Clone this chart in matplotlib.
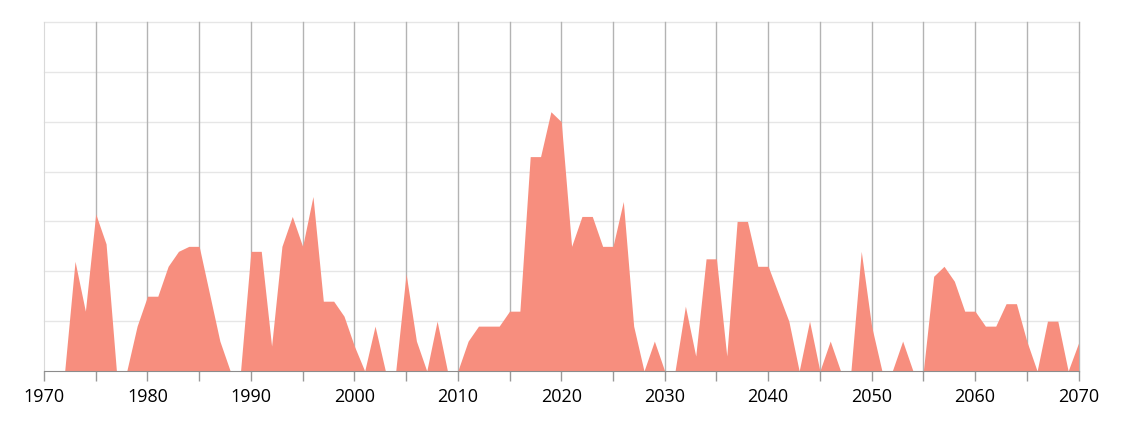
import matplotlib
matplotlib.use("Agg")
import numpy as np
import matplotlib.pyplot as plt

years = list(range(1970, 2071))

values = [
    0, 0, 0, 22, 12, 31.5, 25.5, 0, 0, 9,          # 1970-1979
    15, 15, 21, 24, 25, 25, 15.5, 6, 0, 0,          # 1980-1989
    24, 24, 5, 25, 31, 25, 35, 14, 14, 11,          # 1990-1999
    5, 0, 9, 0, 0, 19.5, 6, 0, 10, 0,               # 2000-2009
    0, 6, 9, 9, 9, 12, 12, 43, 43, 52,              # 2010-2019
    50, 25, 31, 31, 25, 25, 34, 9, 0, 6,            # 2020-2029
    0, 0, 13, 3, 22.5, 22.5, 3, 30, 30, 21,         # 2030-2039
    21, 15.5, 10, 0, 10, 0, 6, 0, 0, 24,            # 2040-2049
    9, 0, 0, 6, 0, 0, 19, 21, 18, 12,               # 2050-2059
    12, 9, 9, 13.5, 13.5, 6, 0, 10, 10, 0,          # 2060-2069
    5.6,                                            # 2070
]

plt.rcParams['font.family'] = ['Open Sans', 'DejaVu Sans']

fig = plt.figure(figsize=(11.24, 4.23), dpi=100)
ax = fig.add_axes([44 / 1124, 52 / 423, 1034.5 / 1124, 349 / 423])

ax.fill_between(years, values, 0, color="#F78E7E", linewidth=0, zorder=2)

ax.set_xlim(1970, 2070)
ax.set_ylim(0, 70)

# horizontal grid
for yv in range(10, 71, 10):
    ax.axhline(yv, color="#e6e6e6", linewidth=1, zorder=1, clip_on=False)
# vertical grid every 5 years
for xv in range(1975, 2071, 5):
    ax.axvline(xv, color="#b3b3b3", linewidth=1, zorder=1, clip_on=False)

for s in ["top", "right"]:
    ax.spines[s].set_visible(False)
ax.spines["left"].set_color("#d9d9d9")
ax.spines["bottom"].set_color("#8c8c8c")
ax.spines["bottom"].set_zorder(3)

ax.set_yticks([])
ax.set_xticks(range(1970, 2071, 5))
ax.set_xticklabels([str(y) if y % 10 == 0 else "" for y in range(1970, 2071, 5)])
ax.tick_params(axis="x", direction="out", length=7, width=1, color="#999999",
               labelsize=13, pad=5, labelcolor="#000000")

fig.savefig("out.png", dpi=100)
